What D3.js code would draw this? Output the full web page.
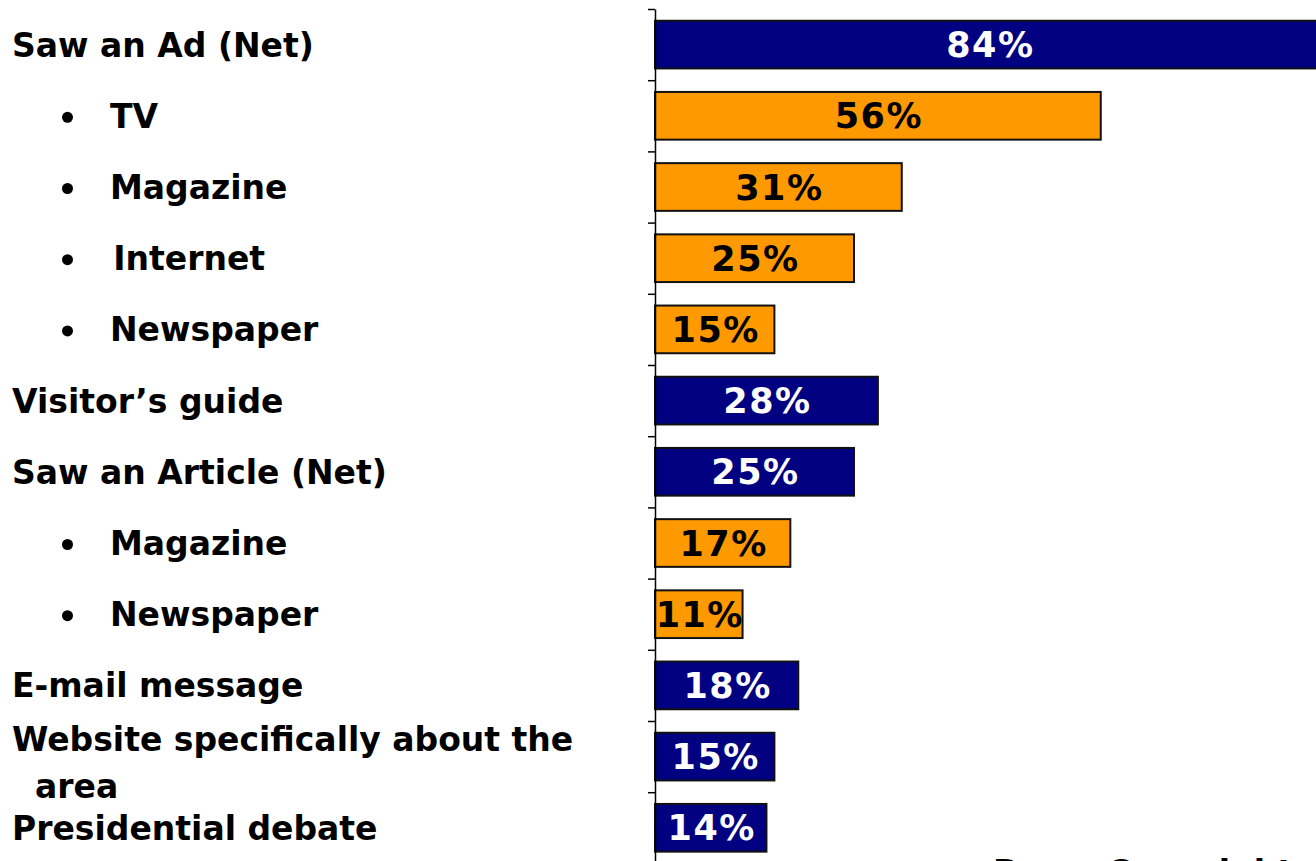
<!DOCTYPE html>
<html>
<head>
<meta charset="utf-8">
<script src="https://cdn.jsdelivr.net/npm/d3@7"></script>
<style>
  body { margin: 0; background: #fff; }
  svg { display: block; }
</style>
</head>
<body>
<div id="chart"></div>
<script>
// data
const categories = [
  "Saw an Ad (Net)",
  "TV",
  "Magazine",
  "\u200AInternet",
  "Newspaper",
  "Visitor\u2019s guide",
  "Saw an Article (Net)",
  "Magazine",
  "Newspaper",
  "E-mail message",
  "Website specifically about the\n  area",
  "Presidential debate"
];
const values = [84, 56, 31, 25, 15, 28, 25, 17, 11, 18, 15, 14];
const isSub = [false, true, true, true, true, false, false, true, true, false, false, false];
const footnote = "Base: Overnight visitors";

const W = 1316, H = 861;
const axisX = 655;
const font = "DejaVu Sans, Verdana, sans-serif";

const svg = d3.select("#chart")
  .append("svg")
    .attr("width", W)
    .attr("height", H);

// row positions
const y0 = 9, step = 71.2;
const yIdx = d3.scaleLinear()
  .domain([0, categories.length])
  .range([y0, y0 + step * categories.length]);

const y = d3.scaleBand()
  .domain(d3.range(categories.length))
  .range(yIdx.range())
  .paddingInner(0.33)
  .paddingOuter(0.165);

// percent scale (the 84% bar runs off the right edge)
const x = d3.scaleLinear()
  .domain([0, 100])
  .range([axisX, axisX + 796]);

const colorMain = "#000080", colorSub = "#FF9900";

// bars
svg.selectAll(".bar")
  .data(values)
  .join("rect")
    .attr("class", "bar")
    .attr("x", x(0))
    .attr("y", (d, i) => y(i))
    .attr("width", d => x(d) - x(0))
    .attr("height", y.bandwidth())
    .attr("fill", (d, i) => isSub[i] ? colorSub : colorMain)
    .attr("stroke", "#111")
    .attr("stroke-width", 2);

// value labels
svg.selectAll(".val")
  .data(values)
  .join("text")
    .attr("class", "val")
    .attr("x", d => (x(0) + x(d)) / 2 + 1)
    .attr("y", (d, i) => y(i) + y.bandwidth() / 2 + 12.5)
    .attr("text-anchor", "middle")
    .attr("font-family", font)
    .attr("font-weight", "bold")
    .attr("font-size", 35)
    .attr("letter-spacing", 1.5)
    .attr("fill", (d, i) => isSub[i] ? "#000" : "#fff")
    .text(d => d + "%");

// axis with a tick between every row
const yAxis = svg.append("g")
  .attr("transform", `translate(${axisX},0)`)
  .call(d3.axisLeft(yIdx)
    .tickValues(d3.range(categories.length + 1))
    .tickFormat("")
    .tickSize(7)
    .tickSizeOuter(0));
yAxis.select(".domain").attr("stroke", "#000").attr("stroke-width", 1.5);
yAxis.selectAll(".tick line").attr("stroke", "#000").attr("stroke-width", 1.5);

// category labels
const labels = svg.selectAll(".cat")
  .data(categories)
  .join("text")
    .attr("class", "cat")
    .attr("font-family", font)
    .attr("font-weight", "bold")
    .attr("font-size", 33)
    .attr("fill", "#000")
    .style("white-space", "pre");

labels.each(function(d, i) {
  const t = d3.select(this);
  const lines = d.split("\n");
  const cy = y(i) + y.bandwidth() / 2;
  const left = isSub[i] ? 110 : 12;
  if (lines.length === 1) {
    t.append("tspan").attr("x", left).attr("y", cy + 12).text(lines[0]);
  } else {
    lines.forEach((ln, k) => {
      t.append("tspan")
        .attr("x", left)
        .attr("y", cy - 6 + k * 47)
        .text(ln);
    });
  }
  if (isSub[i]) {
    svg.append("circle")
      .attr("cx", 67.5)
      .attr("cy", cy + 1.5)
      .attr("r", 5.5)
      .attr("fill", "#000");
  }
});

// footnote, mostly below the visible area
svg.append("text")
  .attr("x", 993)
  .attr("y", 884)
  .attr("font-family", font)
  .attr("font-weight", "bold")
  .attr("font-size", 33)
  .text(footnote);
</script>
</body>
</html>
